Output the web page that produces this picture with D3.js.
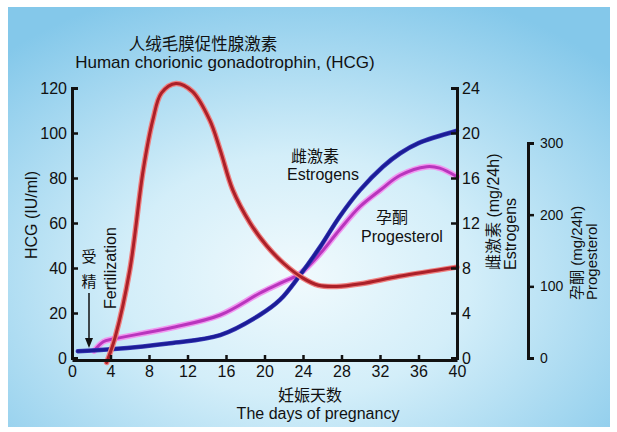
<!DOCTYPE html>
<html>
<head>
<meta charset="utf-8">
<script src="https://cdn.jsdelivr.net/npm/d3@7"></script>
<style>
  body { margin: 0; background: #fff; }
  svg text { font-family: "Liberation Sans", Arial, "Noto Sans CJK SC", sans-serif; fill: #111; }
  .cn { font-family: "Noto Sans CJK SC", sans-serif; }
</style>
</head>
<body>
<svg width="617" height="432"></svg>
<script>
// values
const dayTicks = [0, 4, 8, 12, 16, 20, 24, 28, 32, 36, 40];
const hcgTicks = [0, 20, 40, 60, 80, 100, 120];
const estTicks = [0, 4, 8, 12, 16, 20, 24];
const progTicks = [0, 100, 200, 300];

// HCG (IU/ml), left axis
const hcgDays = [3.6, 4.5, 6.0, 7.4, 8.4, 9.3, 10.8, 12.5, 14.3, 15.4, 16.7, 18.5, 20.2, 22, 24, 25.6, 27.5, 30, 34, 40];
const hcgVals = [-2, 9.5, 39, 83.6, 105.8, 117.8, 122, 118.5, 105.8, 92.4, 74.7, 60, 50, 42, 35.5, 32.3, 31.8, 33, 36.3, 40.4];

// Estrogens (mg/24h), right axis
const estDays = [0.6, 4.0, 10.2, 15.4, 19.5, 21.6, 23.7, 25.8, 27.8, 29.9, 32.3, 34.1, 36.0, 40];
const estVals = [0.6, 0.77, 1.31, 2.04, 3.82, 5.16, 7.38, 9.9, 12.56, 14.9, 17.0, 18.2, 19.1, 20.2];

// Progesterol (mg/24h), outer right axis
const progDays = [2.3, 3.25, 4.3, 10.2, 15.4, 19.5, 21.6, 23.7, 25.8, 27.8, 29.9, 32.0, 34.1, 36.85, 38.2, 40];
const progVals = [10, 22.7, 26.5, 41.9, 60, 90.3, 104, 118, 146, 179, 211, 234, 255, 267, 265, 253];

const svg = d3.select("svg");

// background panel
const defs = svg.append("defs");
const grad = defs.append("radialGradient")
  .attr("id", "bg").attr("cx", "48%").attr("cy", "64%").attr("r", "72%");
grad.append("stop").attr("offset", "0%").attr("stop-color", "#f1fafd");
grad.append("stop").attr("offset", "40%").attr("stop-color", "#d3eef9");
grad.append("stop").attr("offset", "100%").attr("stop-color", "#84c8ea");
svg.append("rect").attr("x", 8).attr("y", 7).attr("width", 602).attr("height", 420)
  .attr("fill", "url(#bg)");

// scales
const x = d3.scaleLinear().domain([0, 40]).range([72, 457]);
const yHcg = d3.scaleLinear().domain([0, 120]).range([358, 88]);
const yEst = d3.scaleLinear().domain([0, 24]).range([358, 88]);
const yProg = d3.scaleLinear().domain([0, 300]).range([358, 143]);

function styleAxis(g, size) {
  g.select(".domain").attr("stroke", "#111").attr("stroke-width", 3);
  g.selectAll(".tick line").attr("stroke", "#111").attr("stroke-width", 2.5);
  g.selectAll(".tick text").attr("fill", "#111").style("font-size", size + "px")
    .style("font-family", "'Liberation Sans', Arial, sans-serif");
}

// curves
const line = (ys) => d3.line().x(d => x(d[0])).y(d => ys(d[1])).curve(d3.curveCatmullRom.alpha(0.5));
const zip = (a, b) => a.map((d, i) => [d, b[i]]);

const curves = [
  { pts: zip(progDays, progVals), y: yProg, halo: "#f097f0", haloW: 6, col: "#b935bd", w: 3 },
  { pts: zip(estDays, estVals), y: yEst, halo: "#3a3ab8", haloW: 4.5, col: "#1c1c96", w: 3 },
  { pts: zip(hcgDays, hcgVals), y: yHcg, halo: "#ef8080", haloW: 5.5, col: "#ab2029", w: 3 }
];
curves.forEach(c => {
  svg.append("path").datum(c.pts).attr("d", line(c.y)).attr("fill", "none")
    .attr("stroke", c.halo).attr("stroke-width", c.haloW).attr("stroke-linecap", "round");
  svg.append("path").datum(c.pts).attr("d", line(c.y)).attr("fill", "none")
    .attr("stroke", c.col).attr("stroke-width", c.w).attr("stroke-linecap", "round");
});

// axes
svg.append("g").attr("transform", "translate(72,0)")
  .call(d3.axisLeft(yHcg).tickValues(hcgTicks).tickSize(-6).tickPadding(5))
  .call(g => styleAxis(g, 16));

svg.append("g").attr("transform", "translate(457,0)")
  .call(d3.axisRight(yEst).tickValues(estTicks).tickSize(-6).tickPadding(5))
  .call(g => styleAxis(g, 16));

svg.append("g").attr("transform", "translate(528,0)")
  .call(d3.axisRight(yProg).tickValues(progTicks).tickSize(6).tickPadding(6))
  .call(g => styleAxis(g, 14));

svg.append("g").attr("transform", "translate(0,360)")
  .call(d3.axisBottom(x).tickValues(dayTicks).tickSize(-5).tickSizeOuter(0).tickPadding(6))
  .call(g => styleAxis(g, 16));

// titles
svg.append("text").attr("class", "cn").attr("x", 203).attr("y", 50)
  .attr("text-anchor", "middle").style("font-size", "16.5px").text("人绒毛膜促性腺激素");
svg.append("text").attr("x", 225).attr("y", 68)
  .attr("text-anchor", "middle").style("font-size", "17px").text("Human chorionic gonadotrophin,  (HCG)");

svg.append("text").attr("class", "cn").attr("x", 310).attr("y", 401)
  .attr("text-anchor", "middle").style("font-size", "16px").text("妊娠天数");
svg.append("text").attr("x", 318).attr("y", 419)
  .attr("text-anchor", "middle").style("font-size", "16px").text("The days of pregnancy");

// axis labels
svg.append("text").attr("transform", "translate(37,215) rotate(-90)")
  .attr("text-anchor", "middle").style("font-size", "16px").text("HCG (IU/ml)");

svg.append("text").attr("transform", "translate(499,270) rotate(-90)")
  .style("font-size", "16px")
  .call(t => {
    t.append("tspan").attr("class", "cn").text("雌激素");
    t.append("tspan").text(" (mg/24h)");
  });
svg.append("text").attr("transform", "translate(516,270) rotate(-90)")
  .style("font-size", "16px").text("Estrogens");

svg.append("text").attr("transform", "translate(582,300) rotate(-90)")
  .style("font-size", "15px")
  .call(t => {
    t.append("tspan").attr("class", "cn").text("孕酮");
    t.append("tspan").text(" (mg/24h)");
  });
svg.append("text").attr("transform", "translate(597,300) rotate(-90)")
  .style("font-size", "15px").text("Progesterol");

// curve annotations
svg.append("text").attr("class", "cn").attr("x", 315).attr("y", 162)
  .attr("text-anchor", "middle").style("font-size", "16px").text("雌激素");
svg.append("text").attr("x", 323).attr("y", 180)
  .attr("text-anchor", "middle").style("font-size", "16px").text("Estrogens");
svg.append("text").attr("class", "cn").attr("x", 392).attr("y", 223)
  .attr("text-anchor", "middle").style("font-size", "16px").text("孕酮");
svg.append("text").attr("x", 402).attr("y", 242)
  .attr("text-anchor", "middle").style("font-size", "16px").text("Progesterol");

// fertilization marker
svg.append("text").attr("class", "cn").attr("x", 89).attr("y", 262)
  .attr("text-anchor", "middle").style("font-size", "15px").text("受");
svg.append("text").attr("class", "cn").attr("x", 89).attr("y", 287)
  .attr("text-anchor", "middle").style("font-size", "15px").text("精");
svg.append("text").attr("transform", "translate(116,268) rotate(-90)")
  .attr("text-anchor", "middle").style("font-size", "16px").text("Fertilization");
svg.append("line").attr("x1", 89).attr("x2", 89).attr("y1", 293).attr("y2", 340)
  .attr("stroke", "#111").attr("stroke-width", 1.5);
svg.append("path").attr("d", "M85,338L93,338L89,348Z").attr("fill", "#111");
</script>
</body>
</html>
